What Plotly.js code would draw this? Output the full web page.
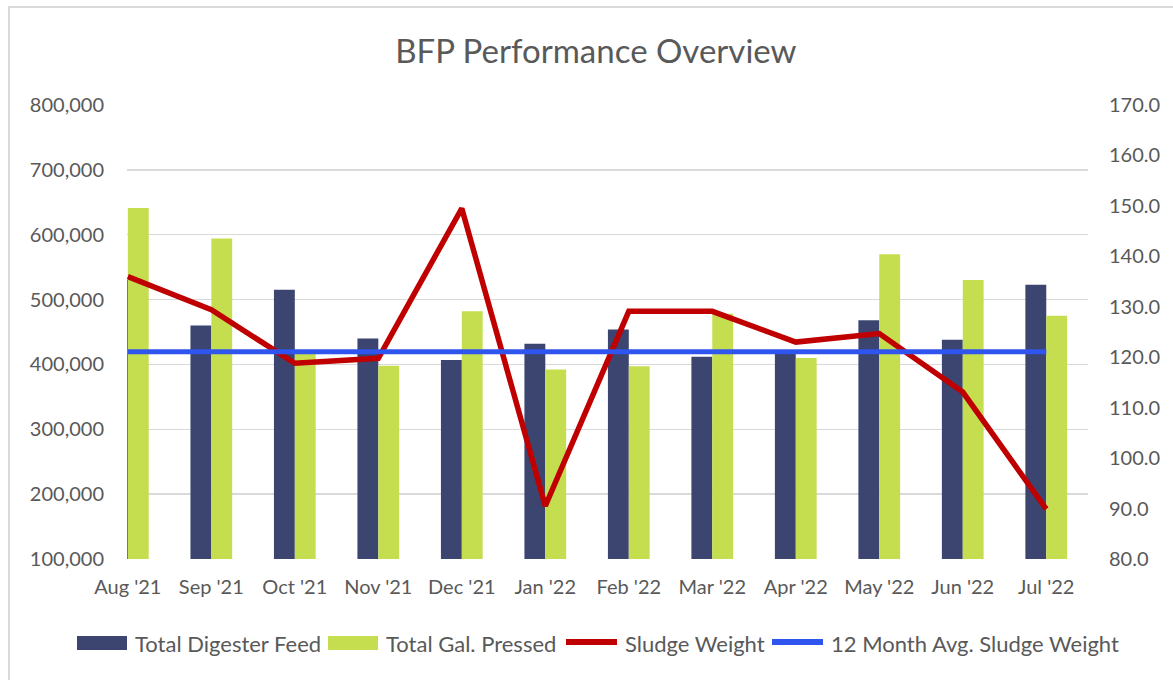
<!DOCTYPE html>
<html>
<head>
<meta charset="utf-8">
<script src="https://cdn.plot.ly/plotly-3.0.1.min.js"></script>
<style>
  html, body { margin: 0; padding: 0; background: #fff; overflow: hidden; }
  #chart { width: 1173px; height: 680px; }
  #frame { position: absolute; left: 8px; top: 6px; width: 1200px; height: 720px;
           border: 2px solid #d9d9d9; pointer-events: none; }
</style>
</head>
<body>
<div id="chart"></div>
<div id="frame"></div>
<script>
const months = ["Aug '21", "Sep '21", "Oct '21", "Nov '21", "Dec '21", "Jan '22",
                "Feb '22", "Mar '22", "Apr '22", "May '22", "Jun '22", "Jul '22"];
const digesterFeed = [530000, 460000, 515000, 440000, 407000, 432000,
                      454000, 412000, 417000, 468000, 438000, 523000];
const galPressed   = [641000, 594000, 416000, 398000, 482000, 392000,
                      397000, 478000, 410000, 570000, 530000, 475000];
const sludgeWeight = [136.0, 129.4, 118.8, 119.8, 149.5, 90.5,
                      129.1, 129.1, 123.0, 124.7, 113.1, 89.9];
const avgSludge    = [121.1, 121.1, 121.1, 121.1, 121.1, 121.1,
                      121.1, 121.1, 121.1, 121.1, 121.1, 121.1];
const seriesNames  = ['Total Digester Feed', 'Total Gal. Pressed', 'Sludge Weight',
                      '12 Month Avg. Sludge Weight'];

const textColor = '#595959';
const fontFam = 'Lato, "Open Sans", sans-serif';
const colors = ['#3b4570', '#c4de50', '#c00000', '#2f55ee'];

const traces = [
  { type: 'bar', name: seriesNames[0], x: months, y: digesterFeed,
    marker: { color: colors[0] }, yaxis: 'y' },
  { type: 'bar', name: seriesNames[1], x: months, y: galPressed,
    marker: { color: colors[1] }, yaxis: 'y' },
  { type: 'scatter', mode: 'lines', name: seriesNames[2], x: months, y: sludgeWeight,
    line: { color: colors[2], width: 5.5 }, yaxis: 'y2' },
  { type: 'scatter', mode: 'lines', name: seriesNames[3], x: months, y: avgSludge,
    line: { color: colors[3], width: 5 }, yaxis: 'y2' }
];

// plot area geometry (pixels) used to place the custom legend
const M = { l: 127, r: 85, t: 105, b: 121 };
const W = 1173, H = 680;
const pw = W - M.l - M.r, ph = H - M.t - M.b;
const px = v => (v - M.l) / pw;
const py = v => (H - M.b - v) / ph;

const legendItems = [
  { kind: 'bar',  x0: 77,  x1: 127, tx: 133 },
  { kind: 'bar',  x0: 328, x1: 378, tx: 384 },
  { kind: 'line', x0: 566, x1: 617, tx: 623 },
  { kind: 'line', x0: 772, x1: 823, tx: 829 }
];
const legY = 643;
const shapes = [], annotations = [];
legendItems.forEach((it, i) => {
  if (it.kind === 'bar') {
    shapes.push({ type: 'rect', xref: 'paper', yref: 'paper',
      x0: px(it.x0), x1: px(it.x1), y0: py(legY + 7), y1: py(legY - 7),
      fillcolor: colors[i], line: { width: 0 } });
  } else {
    shapes.push({ type: 'line', xref: 'paper', yref: 'paper',
      x0: px(it.x0), x1: px(it.x1), y0: py(legY - 1), y1: py(legY - 1),
      line: { color: colors[i], width: 6 } });
  }
  annotations.push({ xref: 'paper', yref: 'paper', x: px(it.tx), y: py(legY),
    xanchor: 'left', yanchor: 'middle', showarrow: false, text: seriesNames[i],
    font: { family: fontFam, size: 22, color: textColor } });
});

const layout = {
  width: W, height: H,
  paper_bgcolor: '#ffffff', plot_bgcolor: '#ffffff',
  margin: M,
  font: { family: fontFam, color: textColor, size: 19 },
  title: { text: 'BFP Performance Overview', x: 0.508, xanchor: 'center',
           y: 0.925, yanchor: 'middle',
           font: { family: fontFam, size: 33, color: textColor } },
  barmode: 'group', bargap: 0.5, bargroupgap: 0,
  xaxis: { type: 'category', range: [-0.01, 11.5], showgrid: false,
           showline: false, zeroline: false, ticks: '', fixedrange: true,
           ticklabelstandoff: 14, tickfont: { size: 20, color: textColor } },
  yaxis: { range: [100000, 800000], dtick: 100000, tickformat: ',d',
           showgrid: true, gridcolor: '#d9d9d9', gridwidth: 1.5, zeroline: false,
           showline: false, ticks: '', ticklabelstandoff: 22,
           tickfont: { size: 20, color: textColor } },
  yaxis2: { overlaying: 'y', side: 'right', range: [80, 170], dtick: 10,
            tickformat: '.1f', showgrid: false, zeroline: false, showline: false,
            ticks: '', ticklabelstandoff: 20,
            tickfont: { size: 20, color: textColor } },
  showlegend: false,
  shapes: shapes,
  annotations: annotations
};

Plotly.newPlot('chart', traces, layout, { displayModeBar: false, staticPlot: true });
</script>
</body>
</html>
